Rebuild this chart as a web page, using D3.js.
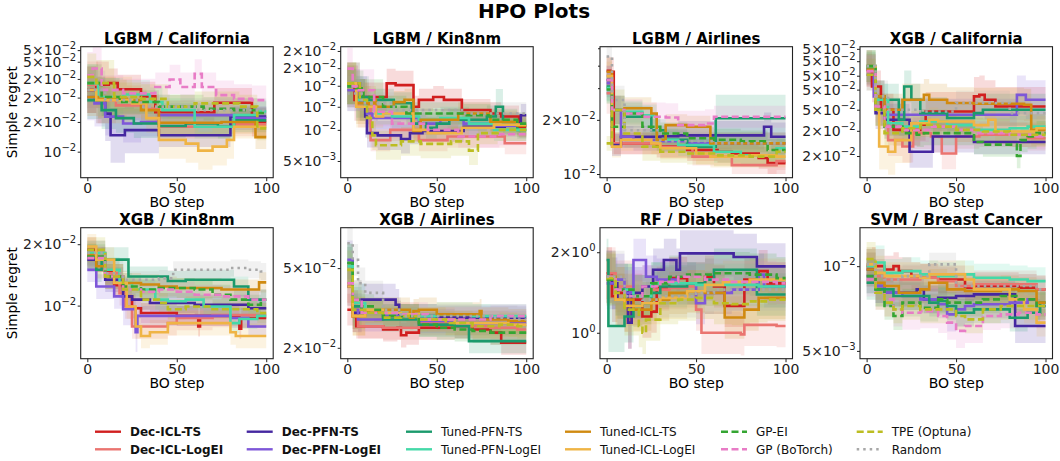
<!DOCTYPE html>
<html lang="en">

<head>
    <meta charset="UTF-8">
    <title>HPO Plots</title>
    <style>
        body { margin: 0; background: #fff; }
        text { font-family: "DejaVu Sans", sans-serif; }
    </style>
</head>

<body>
    <script type='text/javascript' src='https://d3js.org/d3.v7.min.js'></script>

    <script>
        // methods in legend order
        const methods = ['Dec-ICL-TS', 'Dec-ICL-LogEI', 'Dec-PFN-TS', 'Dec-PFN-LogEI', 'Tuned-PFN-TS', 'Tuned-PFN-LogEI',
            'Tuned-ICL-TS', 'Tuned-ICL-LogEI', 'GP-EI', 'GP (BoTorch)', 'TPE (Optuna)', 'Random'];
        const methodColors = ['#d11f1f', '#ea7470', '#4527a0', '#7e57d8', '#1b9a6c', '#45d9a8',
            '#d08a10', '#efb445', '#35a532', '#e87cc6', '#bcbd22', '#a8a8a8'];
        const methodDash = [null, null, null, null, null, null, null, null, '7,3.5', '7,3.5', '7,3.5', '2.5,4'];
        const methodBold = [true, true, true, true, false, false, false, false, false, false, false, false];

        const panelTitles = ['LGBM / California', 'LGBM / Kin8nm', 'LGBM / Airlines', 'XGB / California',
            'XGB / Kin8nm', 'XGB / Airlines', 'RF / Diabetes', 'SVM / Breast Cancer'];
        const yDomains = [[0.00779, 0.02738], [0.00405, 0.0211], [0.00954, 0.0510], [0.0156, 0.0700],
            [0.00549, 0.0241], [0.01764, 0.0796], [0.80, 2.47], [0.00469, 0.0137]];
        const yTickValues = [
            [0.01, 0.0133, 0.0168, 0.0201, 0.0237, 0.0265],
            [0.005, 0.0074, 0.0099, 0.0129, 0.0161, 0.0200],
            [0.01, 0.02],
            [0.0200, 0.0267, 0.0340, 0.0428, 0.0502, 0.0593, 0.0683],
            [0.01, 0.02],
            [0.02, 0.05],
            [1, 2],
            [0.005, 0.01]
        ];
        const yTickLabels = [
            ['10^−2', '2×10^−2', '2×10^−2', '2×10^−2', '5×10^−2', '5×10^−2'],
            ['5×10^−3', '10^−2', '10^−2', '10^−2', '2×10^−2', '2×10^−2'],
            ['10^−2', '2×10^−2'],
            ['2×10^−2', '2×10^−2', '5×10^−2', '5×10^−2', '5×10^−2', '5×10^−2', '5×10^−2'],
            ['10^−2', '2×10^−2'],
            ['2×10^−2', '5×10^−2'],
            ['10^0', '2×10^0'],
            ['5×10^−3', '10^−2']
        ];
        const yMinorTicks = [[], [], [0.03, 0.04, 0.05], [], [], [], [], []];
        const xTicks = [0, 50, 100];

        // each series: [BO step, mean simple regret, band factor (carried forward)]
        const lgbmCalifornia = [
            [[0, .0181, 1.25], [5, .0190], [12, .0193, 1.15], [17, .0182], [30, .0170], [38, .0146, 1.12], [71, .0160, 1.15], [92, .0133]],
            [[0, .0190, 1.25], [6, .0164], [16, .0156, 1.15], [33, .0151], [40, .0127, 1.12], [80, .0130]],
            [[0, .0181, 1.25], [5, .0164], [10, .0144, 1.3], [13, .0117, 1.3], [21, .0123, 1.25], [40, .0117, 1.12], [80, .0140, 1.1]],
            [[0, .0169, 1.25], [4, .0159], [10, .0140, 1.2], [20, .0131, 1.2], [30, .0133, 1.15], [40, .0142, 1.12], [82, .0138]],
            [[0, .0164, 1.2], [8, .0149], [16, .0138, 1.15], [26, .0131], [40, .0128, 1.12], [55, .0131], [73, .0127], [82, .0135]],
            [[0, .0193, 1.2], [6, .0169], [20, .0173, 1.15], [35, .0161], [42, .0149, 1.12], [60, .0127], [82, .0142], [95, .0147]],
            [[0, .0169, 1.2], [6, .0166], [22, .0164, 1.15], [30, .0149], [40, .0132, 1.12], [75, .0133], [94, .0115]],
            [[0, .0181, 1.25], [5, .0164], [25, .0159, 1.15], [33, .0138], [40, .0112, 1.2], [55, .0108], [62, .0101], [70, .0105], [78, .0112], [82, .0127, 1.12]],
            [[0, .0193, 1.2], [8, .0169], [18, .0161, 1.12], [40, .0154], [65, .0151], [82, .0149], [95, .0145]],
            [[0, .0208, 1.25], [3, .0222], [8, .0181, 1.15], [20, .0175], [38, .0186], [46, .0200], [52, .0186], [60, .0211], [64, .0186], [72, .0172], [82, .0166], [92, .0164]],
            [[0, .0205, 1.25], [5, .0193], [15, .0169, 1.15], [30, .0166], [45, .0154, 1.12], [60, .0159], [85, .0154], [95, .0125]],
            [[0, .0181, 1.2], [10, .0164, 1.12], [30, .0154], [60, .0149]]
        ];
        const lgbmKin8nm = [
            [[0, .0128, 1.3], [4, .0108], [10, .0112, 1.2], [22, .0133, 1.2], [27, .0130], [37, .0099, 1.15], [40, .0108], [48, .0112], [54, .0108], [64, .0095], [80, .0091], [86, .00875], [96, .0077]],
            [[0, .0128, 1.3], [6, .0099], [13, .0065, 1.15], [24, .0074], [40, .0065], [56, .0068], [88, .00625]],
            [[0, .0133, 1.3], [7, .0108], [10, .00875], [11, .0071, 1.2], [17, .0069], [30, .0066], [35, .0071, 1.15], [42, .0073], [65, .0077], [88, .0080], [97, .0089]],
            [[0, .0122, 1.3], [7, .0112], [11, .0091, 1.15], [14, .0086], [40, .0080], [52, .0084], [65, .0080], [82, .0078]],
            [[0, .0133, 1.3], [5, .0112], [12, .0108, 1.15], [26, .01035], [36, .0080], [44, .0076], [50, .0080], [57, .0084], [78, .00875], [83, .0099, 1.25], [87, .0079, 1.12], [95, .0074]],
            [[0, .0128, 1.3], [5, .0108], [10, .0099, 1.15], [16, .0091], [25, .00875], [40, .0084], [52, .0086], [68, .0080], [82, .0074]],
            [[0, .0133, 1.3], [5, .01035], [12, .0099, 1.15], [15, .0108], [16, .0099], [26, .0105], [32, .0108], [37, .0073], [41, .0084], [62, .0091], [80, .0082], [95, .0078]],
            [[0, .0133, 1.3], [5, .0099], [16, .00875, 1.15], [20, .0091], [37, .0074], [45, .0071], [64, .0076], [82, .0079]],
            [[0, .0128, 1.25], [5, .0125], [9, .0112], [20, .0099, 1.15], [33, .0091], [65, .0089], [80, .0084], [95, .0080]],
            [[0, .0160, 1.3], [3, .0128], [6, .0122], [15, .0093, 1.2], [25, .0080], [45, .0074, 1.15], [62, .0068], [85, .0070]],
            [[0, .0133, 1.3], [7, .0108], [11, .0086], [14, .0069, 1.2], [16, .0061], [30, .0064], [41, .0062], [58, .0064], [68, .0057], [73, .0071, 1.15], [84, .0074]],
            [[0, .0117, 1.25], [8, .01035, 1.15], [26, .0095], [65, .0091]]
        ];
        const lgbmAirlines = [
            [[0, .0375, 1.2], [2, .0370], [4, .0148, 1.15], [28, .0142], [45, .0136], [62, .0133], [70, .0130], [85, .0123], [90, .0115]],
            [[0, .0281, 1.3], [3, .0148, 1.15], [30, .0141], [48, .0125, 1.12], [70, .0112], [95, .0118]],
            [[0, .0333, 1.2], [3, .0145, 1.15], [8, .0161], [30, .0162], [40, .0164, 1.2], [88, .0183], [92, .0161]],
            [[0, .0320, 1.2], [3, .0227, 1.2], [8, .0161, 1.15], [15, .0155], [30, .0152], [45, .0148]],
            [[0, .0306, 1.2], [3, .0227, 1.2], [10, .0208, 1.15], [25, .0175], [33, .0155], [45, .0142], [61, .0204, 1.35]],
            [[0, .0300, 1.2], [3, .0227], [10, .0222, 1.15], [20, .0212], [28, .0155], [40, .0145], [60, .0133], [75, .0127], [95, .0139]],
            [[0, .0370, 1.2], [3, .0227], [10, .0232, 1.15], [25, .0217], [28, .0155], [33, .0187], [45, .0183], [58, .0148]],
            [[0, .0350, 1.2], [3, .0142, 1.15], [8, .0155], [25, .0148], [30, .0139], [50, .0130], [58, .0125], [80, .0127], [95, .0125]],
            [[0, .0295, 1.2], [3, .0183], [10, .0217, 1.15], [20, .0183], [30, .0168], [45, .0158], [60, .0155], [75, .0152], [90, .0136]],
            [[0, .0333, 1.2], [3, .0227], [10, .0217, 1.2], [20, .0208], [33, .0206], [40, .0187], [55, .0191], [60, .0208, 1.15]],
            [[0, .0148, 1.1], [3, .0227, 1.3], [10, .0168, 1.2], [20, .0142], [30, .0133, 1.15], [45, .0130], [60, .0127], [80, .0125], [95, .0133]],
            [[0, .0450, 1.3], [3, .0258, 1.2], [10, .0175, 1.15], [30, .0152], [60, .0148]]
        ];
        const xgbCalifornia = [
            [[0, .0560, 1.2], [3, .0444], [8, .0340, 1.2], [15, .0270], [30, .0286], [33, .0333, 1.25], [60, .0396], [63, .0403], [66, .0381], [72, .0353]],
            [[0, .0529, 1.2], [5, .0340], [12, .0240, 1.2], [20, .0223], [26, .0260], [36, .0250], [42, .0206], [50, .0250, 1.15], [63, .0255], [90, .0245]],
            [[0, .0538, 1.2], [5, .0327], [10, .0303, 1.2], [24, .0210], [37, .0250], [60, .0235, 1.15]],
            [[0, .0508, 1.2], [4, .0396], [10, .0321, 1.2], [84, .0403, 1.25], [89, .0381]],
            [[0, .0549, 1.2], [5, .0396], [10, .0381, 1.2], [18, .0303], [21, .0444], [25, .0381], [30, .0327], [45, .0309], [60, .0327], [65, .0340]],
            [[0, .0560, 1.2], [5, .0381], [12, .0291, 1.15], [20, .0280], [30, .0297], [45, .0285], [60, .0270], [80, .0275], [90, .0280]],
            [[0, .0538, 1.2], [5, .0396], [10, .0340, 1.2], [20, .0381], [32, .0403], [35, .0381], [45, .0367], [60, .0364], [88, .0360], [92, .0270]],
            [[0, .0560, 1.2], [5, .0340], [7, .0223, 1.3], [12, .0210], [16, .0240], [25, .0291, 1.15], [35, .0303], [40, .0297], [60, .0285], [68, .0303], [72, .0265], [95, .0275]],
            [[0, .0560, 1.2], [5, .0340], [10, .0280, 1.15], [20, .0260], [28, .0255], [32, .0260], [60, .0235], [65, .0228], [84, .0200], [86, .0240], [90, .0250], [95, .0260]],
            [[0, .0529, 1.2], [5, .0353], [10, .0280, 1.15], [20, .0270], [35, .0280], [50, .0270], [60, .0260], [80, .0255], [95, .0250]],
            [[0, .0508, 1.2], [5, .0340], [10, .0260, 1.15], [20, .0275], [30, .0286], [40, .0280], [50, .0270], [65, .0265], [80, .0255]],
            [[0, .0560, 1.2], [5, .0396], [12, .0340, 1.15], [30, .0333], [50, .0367], [80, .0327]]
        ];
        const xgbKin8nm = [
            [[0, .0188, 1.15], [5, .0168], [10, .0147], [15, .0126, 1.12], [20, .0111], [25, .0097], [30, .0092], [50, .0089], [62, .0079], [63, .0089], [85, .0077], [86, .0087]],
            [[0, .0181, 1.15], [10, .0144], [18, .0115, 1.15], [21, .0099], [25, .0079], [45, .0082], [50, .0087], [70, .0090]],
            [[0, .0168, 1.15], [10, .0134], [20, .0111, 1.12], [25, .0107], [35, .0103], [60, .0101], [90, .0097]],
            [[0, .0150, 1.15], [5, .0124], [15, .0111], [20, .0096, 1.2], [27, .0074, 1.25], [28, .0089, 1.12], [80, .0087], [90, .0079]],
            [[0, .0174, 1.15], [5, .0150], [8, .0168], [23, .0139, 1.12], [45, .0132], [55, .0134], [82, .0124], [90, .0107]],
            [[0, .0181, 1.15], [10, .0150], [18, .0129, 1.12], [25, .0120], [38, .0107], [45, .0105], [55, .0107], [65, .0099], [80, .0082], [85, .0086], [95, .0089]],
            [[0, .0177, 1.15], [5, .0156], [10, .0139], [20, .0129, 1.12], [30, .0127], [40, .0124], [50, .0122], [75, .0120], [96, .0130]],
            [[0, .0195, 1.15], [5, .0168], [15, .0129], [22, .0099, 1.15], [27, .0079], [30, .0071], [35, .0074], [45, .0082], [80, .0074], [83, .0071]],
            [[0, .0174, 1.15], [10, .0139], [20, .0124, 1.12], [30, .0120], [40, .0122], [60, .0120], [70, .0113], [80, .0107], [90, .0101], [97, .0107]],
            [[0, .0171, 1.15], [10, .0139], [20, .0120, 1.12], [30, .0117], [40, .0120], [50, .0117], [60, .0113], [75, .0111], [90, .0107]],
            [[0, .0188, 1.15], [10, .0139], [20, .0120, 1.12], [30, .0107], [40, .0103], [45, .0096], [55, .0099], [70, .0096], [95, .0092]],
            [[0, .0181, 1.15], [10, .0144], [20, .0134, 1.1], [40, .0136], [48, .0150], [80, .0153], [90, .0150], [97, .0147]]
        ];
        const xgbAirlines = [
            [[0, .0310, 1.2], [3, .0288], [5, .0256, 1.15], [20, .0247], [28, .0252], [30, .0231], [33, .0238], [40, .0252], [60, .0256], [70, .0247], [80, .0238], [86, .0212]],
            [[0, .0510, 1.25], [3, .0310], [6, .0256, 1.15], [20, .0252], [40, .0266], [60, .0256], [80, .0252], [95, .0247]],
            [[0, .0405, 1.25], [3, .0299], [8, .0348, 1.2], [27, .0328], [29, .0288, 1.15], [50, .0283]],
            [[0, .0550, 1.25], [3, .0310], [6, .0277, 1.15], [20, .0288], [40, .0272], [60, .0266]],
            [[0, .0530, 1.25], [3, .0322], [8, .0299, 1.15], [20, .0277], [40, .0261], [60, .0256], [68, .0216]],
            [[0, .0510, 1.25], [3, .0335], [10, .0299, 1.15], [30, .0288], [50, .0294], [70, .0288]],
            [[0, .0420, 1.25], [3, .0288], [10, .0305, 1.15], [20, .0310], [35, .0283], [37, .0305], [40, .0310], [50, .0294], [74, .0305], [75, .0277], [90, .0272]],
            [[0, .0405, 1.25], [3, .0288], [10, .0310, 1.15], [20, .0299], [30, .0294], [40, .0277], [60, .0266], [90, .0261]],
            [[0, .0530, 1.25], [3, .0348], [8, .0322, 1.15], [15, .0310], [20, .0288], [40, .0261], [50, .0252], [60, .0247], [70, .0243], [80, .0238]],
            [[0, .0420, 1.25], [3, .0348], [8, .0299, 1.15], [30, .0294], [45, .0277], [80, .0288]],
            [[0, .0490, 1.25], [3, .0310], [10, .0299, 1.15], [20, .0283], [30, .0288], [40, .0277], [55, .0266], [70, .0256], [85, .0261], [95, .0256]],
            [[0, .0666, 1.2], [3, .0550], [6, .0420], [10, .0376, 1.15], [20, .0310], [30, .0288], [80, .0283], [95, .0277]]
        ];
        const rfDiabetes = [
            [[0, 1.67, 1.25], [3, 1.37], [6, 1.41], [10, 1.26], [12, 1.09], [14, 1.33], [20, 1.15, 1.2], [25, 1.20], [28, 1.47], [35, 1.60], [45, 1.53], [55, 1.62], [60, 1.49], [66, 1.26], [77, 1.58], [85, 1.70], [90, 1.53]],
            [[0, 1.67, 1.25], [5, 1.49], [15, 1.37, 1.2], [25, 1.45], [35, 1.47], [45, 1.49], [50, 1.22], [53, 1.00, 1.2], [75, 0.986], [77, 1.07], [95, 1.06]],
            [[0, 1.62, 1.25], [3, 1.53], [6, 1.33], [10, 1.45], [12, 1.09], [14, 1.41], [20, 1.49, 1.2], [26, 1.72], [32, 1.87], [39, 1.72], [41, 1.98, 1.22], [71, 1.92], [84, 1.77]],
            [[0, 1.53, 1.25], [5, 1.58], [10, 1.41], [14, 1.45], [15, 1.87, 1.2], [22, 1.62], [28, 1.58], [40, 1.53], [50, 1.29], [55, 1.41], [70, 1.45], [85, 1.65], [88, 1.49]],
            [[0, 1.87, 1.2], [1, 1.06, 1.25], [10, 1.15], [15, 1.26, 1.2], [20, 1.29], [25, 1.41], [30, 1.49], [45, 1.53], [55, 1.58], [60, 1.72], [84, 1.39]],
            [[0, 1.62, 1.25], [5, 1.45], [15, 1.37, 1.2], [25, 1.53], [40, 1.53], [50, 1.51], [85, 1.49]],
            [[0, 1.62, 1.25], [5, 1.33], [15, 1.22, 1.2], [25, 1.33], [35, 1.41], [45, 1.43], [55, 1.41], [66, 1.14], [77, 1.22], [85, 1.35]],
            [[0, 1.58, 1.25], [5, 1.33], [10, 1.26], [20, 1.29, 1.2], [30, 1.35], [45, 1.43], [55, 1.51], [65, 1.55], [80, 1.58]],
            [[0, 1.58, 1.25], [5, 1.45], [15, 1.37, 1.2], [25, 1.53], [35, 1.62], [45, 1.65], [60, 1.67], [80, 1.65], [95, 1.60]],
            [[0, 1.62, 1.25], [5, 1.45], [10, 1.37], [20, 1.49, 1.2], [30, 1.55], [40, 1.62], [55, 1.58], [70, 1.55], [95, 1.53]],
            [[0, 1.60, 1.25], [5, 1.41], [10, 1.22], [18, 1.06, 1.2], [20, 1.00], [22, 1.12], [30, 1.29], [40, 1.33], [50, 1.35], [60, 1.29], [70, 1.28], [80, 1.31], [90, 1.33]],
            [[0, 1.62, 1.25], [10, 1.37, 1.2], [20, 1.33], [30, 1.37], [50, 1.41], [60, 1.45]]
        ];
        const svmBreastCancer = [
            [[0, .0100, 1.15], [3, .01015], [5, .0100], [10, .00973, 1.12], [15, .0100], [18, .0096], [25, .00922], [30, .0091], [40, .00897], [55, .00838], [60, .0085], [85, .00838], [95, .00827]],
            [[0, .0100, 1.15], [5, .00922], [10, .00897, 1.12], [30, .0091], [40, .00885], [50, .0085], [60, .00862], [95, .00827]],
            [[0, .00973, 1.15], [5, .0085], [10, .00805, 1.12], [28, .00827], [32, .00762], [40, .00772], [50, .00783], [60, .00794], [83, .00613, 1.15]],
            [[0, .00922, 1.15], [5, .0085], [10, .00805, 1.12], [20, .00783], [30, .00762], [40, .00732], [45, .00674, 1.15], [50, .00702], [55, .00722], [60, .00732, 1.12], [80, .00742], [90, .00762], [95, .00722]],
            [[0, .00873, 1.15], [5, .00827], [15, .00783, 1.12], [35, .00742], [40, .00752], [45, .00722], [50, .00683], [60, .00702], [80, .00656], [90, .00683], [97, .00742]],
            [[0, .0100, 1.15], [5, .01030], [10, .00947, 1.12], [20, .0096], [30, .00935], [40, .00922], [50, .00935], [60, .0091], [80, .00897], [90, .00885]],
            [[0, .00973, 1.15], [5, .00873], [10, .0085, 1.12], [18, .00805], [30, .00827], [35, .00873], [45, .00827], [55, .00816], [75, .00827], [85, .00816], [95, .00742]],
            [[0, .01015, 1.15], [5, .00947], [10, .00922, 1.12], [30, .0091], [35, .00935], [55, .00897], [60, .00827], [80, .00762], [88, .00702], [95, .0063]],
            [[0, .00922, 1.15], [5, .00827], [10, .00722, 1.12], [15, .00665], [20, .00742], [30, .00712], [40, .00762], [45, .00742], [65, .00762], [75, .00783], [85, .00762], [95, .00722]],
            [[0, .00897, 1.15], [5, .00805], [10, .00762, 1.15], [15, .00702], [20, .00683], [30, .00692], [40, .00665], [45, .0063], [50, .00589], [55, .00613], [65, .00665, 1.12], [75, .00674], [85, .00683], [95, .00674]],
            [[0, .0106, 1.15], [5, .00805], [10, .00742, 1.12], [15, .00702], [20, .00722], [30, .00702], [50, .00665], [55, .00647], [65, .00702], [75, .00722]],
            [[0, .01015, 1.15], [5, .00922], [10, .00897, 1.1], [20, .00922], [35, .01015], [50, .0085], [80, .0085], [95, .00827]]
        ];
        const panelData = [lgbmCalifornia, lgbmKin8nm, lgbmAirlines, xgbCalifornia, xgbKin8nm, xgbAirlines, rfDiabetes, svmBreastCancer];

        // layout
        const W = 1060, H = 461;
        const plotW = 192.5, plotH = 131;
        const colLeft = [80.7, 340.7, 600, 860];
        const rowTop = [46.7, 227.7];

        const svg = d3.select('body').append('svg').attr('width', W).attr('height', H);

        svg.append('text')
            .attr('x', 534).attr('y', 17.5)
            .attr('text-anchor', 'middle')
            .attr('font-size', 20).attr('font-weight', 'bold')
            .text('HPO Plots');

        // turn breakpoints into step points, carrying the band factor forward
        function toPoints(series) {
            let s = series[0][2];
            const pts = series.map(d => {
                if (d[2] !== undefined) s = d[2];
                return { x: d[0], v: d[1], s: s };
            });
            const last = pts[pts.length - 1];
            if (last.x < 100) pts.push({ x: 100, v: last.v, s: last.s });
            return pts;
        }

        panelData.forEach((data, p) => {
            const col = p % 4, row = Math.floor(p / 4);
            const g = svg.append('g').attr('transform', `translate(${colLeft[col]},${rowTop[row]})`);

            const x = d3.scaleLinear().domain([-3.7, 103.9]).range([0, plotW]);
            const y = d3.scaleLog().domain(yDomains[p]).range([plotH, 0]);

            const clipId = 'clip' + p;
            g.append('clipPath').attr('id', clipId)
                .append('rect').attr('width', plotW).attr('height', plotH);

            const area = d3.area().curve(d3.curveStepAfter)
                .x(d => x(d.x)).y0(d => y(d.v / d.s)).y1(d => y(d.v * d.s));
            const line = d3.line().curve(d3.curveStepAfter)
                .x(d => x(d.x)).y(d => y(d.v));

            const series = data.map(toPoints);
            const inner = g.append('g').attr('clip-path', `url(#${clipId})`);

            // bands first, lines on top
            inner.selectAll('.band')
                .data(series)
                .enter().append('path')
                .attr('class', 'band')
                .attr('d', area)
                .style('fill', (d, i) => methodColors[i])
                .style('fill-opacity', 0.16)
                .style('stroke', 'none');

            inner.selectAll('.line')
                .data(series)
                .enter().append('path')
                .attr('class', 'line')
                .attr('d', line)
                .style('fill', 'none')
                .style('stroke', (d, i) => methodColors[i])
                .style('stroke-width', 2.6)
                .style('stroke-dasharray', (d, i) => methodDash[i]);

            // axes
            const xAxis = g.append('g')
                .attr('transform', `translate(0,${plotH})`)
                .call(d3.axisBottom(x).tickValues(xTicks).tickSize(3.5).tickPadding(2));
            xAxis.select('.domain').remove();
            xAxis.attr('font-family', 'DejaVu Sans').attr('font-size', 14).attr('color', '#222');

            const yAxis = g.append('g')
                .call(d3.axisLeft(y).tickValues(yTickValues[p]).tickSize(3).tickPadding(1.5).tickFormat(() => ''));
            yAxis.select('.domain').remove();
            yAxis.attr('font-family', 'DejaVu Sans').attr('font-size', 14).attr('color', '#222');
            yAxis.selectAll('.tick text').each(function (d, i) {
                const parts = yTickLabels[p][i].split('^');
                const t = d3.select(this);
                t.append('tspan').text(parts[0]);
                t.append('tspan').attr('dy', -6).attr('font-size', 10).text(parts[1]);
            });

            if (yMinorTicks[p].length) {
                const minor = g.append('g')
                    .call(d3.axisLeft(y).tickValues(yMinorTicks[p]).tickSize(2).tickFormat(() => ''));
                minor.select('.domain').remove();
                minor.attr('color', '#222');
            }

            g.append('rect')
                .attr('width', plotW).attr('height', plotH)
                .style('fill', 'none').style('stroke', '#222').style('stroke-width', 1.1);

            g.append('text')
                .attr('x', plotW / 2).attr('y', -2.5)
                .attr('text-anchor', 'middle')
                .attr('font-size', 15).attr('font-weight', 'bold')
                .text(panelTitles[p]);

            g.append('text')
                .attr('x', plotW / 2).attr('y', plotH + 29)
                .attr('text-anchor', 'middle')
                .attr('font-size', 14)
                .text('BO step');

            if (col === 0) {
                g.append('text')
                    .attr('transform', `translate(${17 - colLeft[0]},${plotH / 2}) rotate(-90)`)
                    .attr('text-anchor', 'middle')
                    .attr('font-size', 13.6)
                    .text('Simple regret');
            }
        });

        // legend, two rows, filled column by column
        const legendColX = [95, 246.7, 406, 565, 721, 856.7];
        const legendRowY = [431.7, 449.3];
        const legend = svg.append('g');
        methods.forEach((m, i) => {
            const lx = legendColX[Math.floor(i / 2)], ly = legendRowY[i % 2];
            legend.append('line')
                .attr('x1', lx).attr('x2', lx + 26).attr('y1', ly).attr('y2', ly)
                .style('stroke', methodColors[i])
                .style('stroke-width', 2.4)
                .style('stroke-dasharray', methodDash[i]);
            legend.append('text')
                .attr('x', lx + 35).attr('y', ly + 4.2)
                .attr('font-size', 12)
                .attr('font-weight', methodBold[i] ? 'bold' : 'normal')
                .style('fill', '#111')
                .text(m);
        });
    </script>
</body>

</html>
